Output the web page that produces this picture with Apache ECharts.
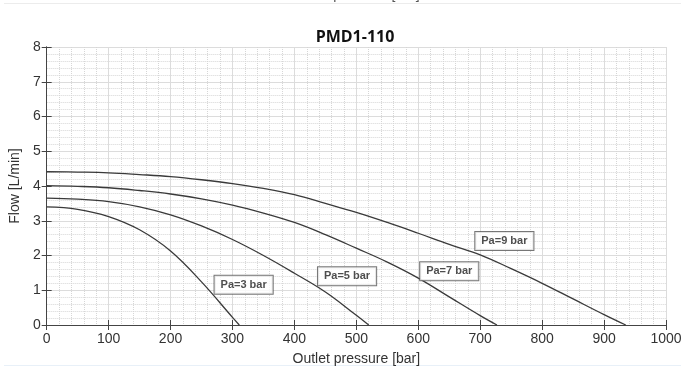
<!DOCTYPE html>
<html>
<head>
<meta charset="utf-8">
<script src="https://cdn.jsdelivr.net/npm/echarts@6/dist/echarts.min.js"></script>
<style>
  html, body { margin: 0; padding: 0; background: #fff; }
  #main { width: 685px; height: 372px; }
</style>
</head>
<body>
<div id="main"></div>
<script>
// pump curves: outlet pressure [bar] -> flow [L/min]
var pressure3 = [0, 50, 100, 150, 200, 250, 300, 311];
var flow3 = [3.40, 3.33, 3.12, 2.74, 2.13, 1.24, 0.22, 0];

var pressure5 = [0, 50, 100, 150, 200, 250, 300, 350, 400, 450, 500, 520];
var flow5 = [3.65, 3.62, 3.55, 3.40, 3.17, 2.85, 2.46, 2.00, 1.49, 0.95, 0.28, 0];

var pressure7 = [0, 50, 100, 150, 200, 250, 300, 350, 400, 450, 500, 550, 600, 650, 700, 727];
var flow7 = [4.01, 3.99, 3.95, 3.87, 3.77, 3.63, 3.45, 3.22, 2.95, 2.60, 2.21, 1.81, 1.35, 0.81, 0.27, 0];

var pressure9 = [0, 50, 100, 150, 200, 250, 300, 350, 400, 450, 500, 550, 600, 650, 700, 750, 800, 850, 900, 935];
var flow9 = [4.41, 4.40, 4.38, 4.33, 4.27, 4.18, 4.07, 3.93, 3.75, 3.50, 3.24, 2.95, 2.64, 2.32, 2.02, 1.62, 1.20, 0.75, 0.30, 0];

// curve tags and where they sit (data coords)
var tagText = ["Pa=3 bar", "Pa=5 bar", "Pa=7 bar", "Pa=9 bar"];
var tagPressure = [318, 485, 650, 739];
var tagFlow = [1.16, 1.40, 1.55, 2.42];

function pairs(xs, ys) {
  var out = [];
  for (var i = 0; i < xs.length; i++) out.push([xs[i], ys[i]]);
  return out;
}

var tags = [];
for (var i = 0; i < tagText.length; i++) {
  tags.push({ name: tagText[i], value: [tagPressure[i], tagFlow[i]] });
}

var axisColor = "#444";
var font = "'Liberation Sans', Arial, sans-serif";

function curve(xs, ys) {
  return {
    type: "line",
    data: pairs(xs, ys),
    smooth: 0.4,
    showSymbol: false,
    lineStyle: { color: "#3a3a3a", width: 1.3 },
    silent: true,
    z: 3
  };
}

var chart = echarts.init(document.getElementById("main"));
chart.setOption({
  backgroundColor: "#ffffff",
  animation: false,
  title: {
    text: "PMD1-110",
    left: 350,
    textAlign: "center",
    top: 24,
    textStyle: {
      fontFamily: "'Open Sans', sans-serif",
      fontSize: 16,
      fontWeight: "bold",
      color: "#111"
    }
  },
  grid: { left: 42, right: 19, top: 47, bottom: 47 },
  xAxis: [
    {
      type: "value",
      min: 0,
      max: 1000,
      interval: 100,
      name: "Outlet pressure [bar]",
      nameLocation: "middle",
      nameGap: 27,
      nameTextStyle: { fontFamily: font, fontSize: 14, color: "#333" },
      axisLine: { show: true, lineStyle: { color: axisColor, width: 1 } },
      axisTick: { show: true, inside: true, length: 5, lineStyle: { color: axisColor } },
      axisLabel: {
        fontFamily: font, fontSize: 14, color: "#333", margin: 7,
        formatter: function (v) { return String(v); }
      },
      splitLine: { show: true, lineStyle: { color: "#dcdcdc", width: 1 } },
      minorTick: { show: false, splitNumber: 5 },
      minorSplitLine: { show: true, lineStyle: { color: "#d6d6d6", type: "dotted", width: 1 } }
    },
    {
      type: "value",
      position: "top",
      min: 0,
      max: 1000,
      interval: 100,
      axisLine: { show: true, lineStyle: { color: axisColor, width: 1 } },
      axisTick: { show: true, inside: true, length: 5, lineStyle: { color: axisColor } },
      axisLabel: { show: false },
      splitLine: { show: false }
    }
  ],
  yAxis: [
    {
      type: "value",
      min: 0,
      max: 8,
      interval: 1,
      name: "Flow [L/min]",
      nameLocation: "middle",
      nameGap: 20,
      nameTextStyle: { fontFamily: font, fontSize: 14, color: "#333" },
      axisLine: { show: true, lineStyle: { color: axisColor, width: 1 } },
      axisTick: { show: true, inside: true, length: 5, lineStyle: { color: axisColor } },
      axisLabel: { fontFamily: font, fontSize: 14, color: "#333", margin: 6 },
      splitLine: { show: true, lineStyle: { color: "#dcdcdc", width: 1 } },
      minorTick: { show: false, splitNumber: 5 },
      minorSplitLine: { show: true, lineStyle: { color: "#d6d6d6", type: "dotted", width: 1 } }
    },
    {
      type: "value",
      position: "right",
      min: 0,
      max: 8,
      interval: 1,
      axisLine: { show: true, lineStyle: { color: axisColor, width: 1 } },
      axisTick: { show: true, inside: true, length: 5, lineStyle: { color: axisColor } },
      axisLabel: { show: false },
      splitLine: { show: false }
    }
  ],
  series: [
    curve(pressure3, flow3),
    curve(pressure5, flow5),
    curve(pressure7, flow7),
    curve(pressure9, flow9),
    {
      type: "scatter",
      data: tags,
      symbolSize: 0,
      silent: true,
      z: 5,
      label: {
        show: true,
        position: "inside",
        formatter: "{b}",
        fontFamily: font,
        fontSize: 11,
        fontWeight: "bold",
        color: "#222",
        backgroundColor: "#ffffff",
        borderColor: "#555",
        borderWidth: 1,
        padding: [4, 6, 3, 6]
      }
    }
  ],
  // leftovers of the neighbouring figure in the cropped screenshot
  graphic: [
    {
      type: "text",
      left: 292,
      top: -12,
      style: { text: "Outlet pressure [bar]", font: "14px " + font, fill: "#555" },
      silent: true
    },
    {
      type: "rect",
      shape: { x: 4, y: 3, width: 677, height: 1 },
      style: { fill: "#ececec" },
      silent: true
    },
    {
      type: "rect",
      shape: { x: 4, y: 365, width: 677, height: 1 },
      style: { fill: "#e8f0f8" },
      silent: true
    }
  ]
});
</script>
</body>
</html>
